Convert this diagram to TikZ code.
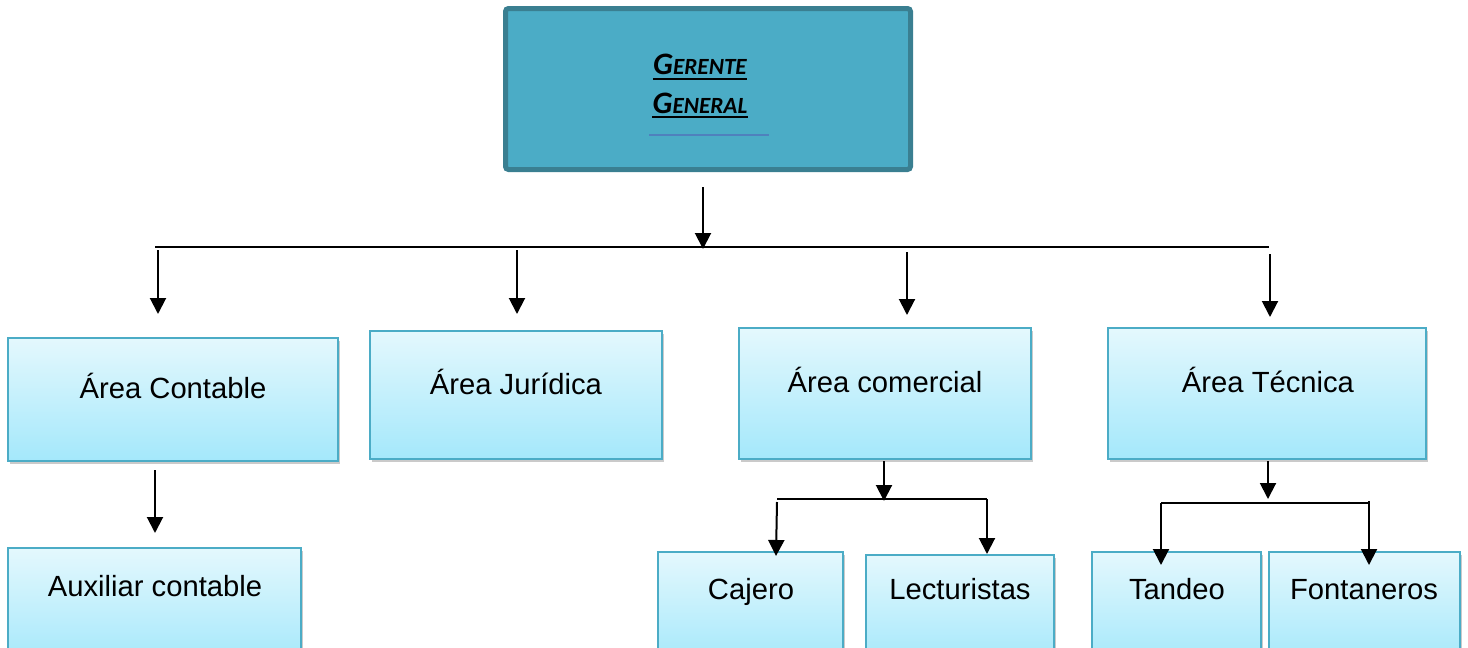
\documentclass[tikz,border=0pt]{standalone}
\usepackage{fontspec}
\setmainfont{Liberation Sans}
\newfontfamily\calib{Carlito}
\usetikzlibrary{arrows.meta,shadows,fit}
\definecolor{topfill}{HTML}{4BACC6}
\definecolor{topborder}{HTML}{3A7F91}
\definecolor{boxborder}{HTML}{4BACC6}
\definecolor{boxtop}{HTML}{E4F8FD}
\definecolor{boxbot}{HTML}{A4E8FB}
\definecolor{ulblue}{HTML}{4F81BD}
\begin{document}
\begin{tikzpicture}[x=0.5pt,y=-0.5pt,
  lbox/.style={draw=boxborder, line width=0.9pt, top color=boxtop, bottom color=boxbot, inner sep=0pt,
    drop shadow={shadow xshift=1pt, shadow yshift=-1.5pt, opacity=0.35, fill=black!60}},
  lbl/.style={anchor=base, font=\fontsize{14.6}{17}\selectfont, inner sep=0pt},
  ggtxt/.style={anchor=base, inner sep=0pt, font=\calib\bfseries\itshape},
  conn/.style={line width=1pt, -{Triangle[width=8pt,length=8pt]}},
  bus/.style={line width=1pt},
  ul/.style={line width=0.8pt}]
\useasboundingbox (0,0) rectangle (1468,648);

% top box
\node[draw=topborder, line width=2.5pt, fill=topfill, rounded corners=1.5pt, inner sep=0pt,
      fit={(505.5,8.5)(910.5,169.5)}] (gg) {};
\node[ggtxt] (g1) at (700,75) {\fontsize{15.6}{18}\selectfont G\fontsize{11.6}{14}\selectfont ERENTE};
\node[ggtxt] (g2) at (700,113) {\fontsize{15.6}{18}\selectfont G\fontsize{11.6}{14}\selectfont ENERAL};
\draw[ul] ([yshift=-2pt]g1.base west) -- ([yshift=-2pt]g1.base east);
\draw[ul] ([yshift=-2pt]g2.base west) -- ([yshift=-2pt]g2.base east);
\coordinate (bl1) at (649,135);
\coordinate (bl2) at (769,135);
\draw[ulblue, line width=0.8pt] (bl1) -- (bl2);

% level 1 boxes
\node[lbox, fit={(8,338)(338,461)}] (ac) {};
\node[lbox, fit={(370,331)(662,459)}] (aj) {};
\node[lbox, fit={(739,328)(1031,459)}] (acm) {};
\node[lbox, fit={(1108,328)(1426,459)}] (at) {};
\node[lbl] (tac) at (173,398) {Área Contable};
\node[lbl] (taj) at (516,394) {Área Jurídica};
\node[lbl] (tacm) at (885,392) {Área comercial};
\node[lbl] (tat) at (1268,392) {Área Técnica};

% level 2 boxes
\node[lbox, fit={(8,548)(301,665)}] (aux) {};
\node[lbox, fit={(658,552)(843,665)}] (caj) {};
\node[lbox, fit={(866,555)(1054,665)}] (lec) {};
\node[lbox, fit={(1092,552)(1261,665)}] (tan) {};
\node[lbox, fit={(1269,552)(1460,665)}] (fon) {};
\node[lbl] (taux) at (155,596) {Auxiliar contable};
\node[lbl] (tcaj) at (751,599) {Cajero};
\node[lbl] (tlec) at (960,599) {Lecturistas};
\node[lbl] (ttan) at (1177,599) {Tandeo};
\node[lbl] (tfon) at (1364,599) {Fontaneros};

% main bus
\coordinate (m0) at (703,187);
\coordinate (m1) at (703,249);
\coordinate (bL) at (155,247);
\coordinate (bR) at (1269,247);
\draw[conn] (m0) -- (m1);
\draw[bus] (bL) -- (bR);
\draw[conn] (158,250) -- (158,314);
\draw[conn] (517,250) -- (517,314);
\draw[conn] (907,252) -- (907,315);
\draw[conn] (1270,254) -- (1270,317);

% contable
\draw[conn] (155,470) -- (155,533);

% comercial
\coordinate (c0) at (884,461);
\coordinate (c1) at (884,501);
\draw[conn] (c0) -- (c1);
\draw[bus] (777,499) -- (987,499);
\draw[conn] (777,502) -- (776,556);
\draw[conn] (987,499) -- (987,554);

% tecnica
\coordinate (t0) at (1268,461);
\coordinate (t1) at (1268,499);
\draw[conn] (t0) -- (t1);
\draw[bus] (1161,503) -- (1369,503);
\draw[conn] (1161,503) -- (1161,565);
\draw[conn] (1369,501) -- (1369,565);
\end{tikzpicture}
\end{document}
